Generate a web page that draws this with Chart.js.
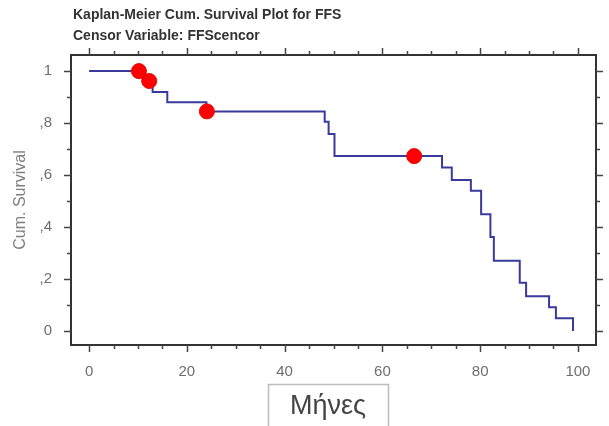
<!DOCTYPE html>
<html>
<head>
<meta charset="utf-8">
<script src="https://cdn.jsdelivr.net/npm/chart.js@4.4.1/dist/chart.umd.min.js"></script>
<style>
  html, body { margin: 0; padding: 0; background: #ffffff; }
  #wrap { width: 609px; height: 426px; position: relative; }
</style>
</head>
<body>
<div id="wrap"><canvas id="c" width="609" height="426"></canvas></div>
<script>
// ---- data ----
const titleLines = ['Kaplan-Meier Cum. Survival Plot for FFS', 'Censor Variable: FFScencor'];
const xAxisTitle = 'Μήνες';
const yAxisTitle = 'Cum. Survival';

// Kaplan-Meier step curve: event time (months) and survival after that time
const kmTimes    = [0, 11, 13, 16, 24, 48.2, 49.0, 50.2, 72.2, 74.2, 78.1, 80.2, 82.1, 82.8, 88.1, 89.4, 94.1, 95.5, 99.0];
const kmSurvival = [1.0, 0.96, 0.92, 0.88, 0.845, 0.805, 0.758, 0.673, 0.629, 0.581, 0.540, 0.449, 0.362, 0.270, 0.186, 0.134, 0.091, 0.049, 0.0];

// censored observations
const censorTimes    = [10.2, 12.3, 24.1, 66.5];
const censorSurvival = [1.0, 0.962, 0.845, 0.673];

// axis ticks
const xTicks = [0, 20, 40, 60, 80, 100];
const xTickLabels = ['0', '20', '40', '60', '80', '100'];
const xMinorStep = 5;
const yTicks = [0, 0.2, 0.4, 0.6, 0.8, 1];
const yTickLabels = ['0', ',2', ',4', ',6', ',8', '1'];
const yMinorStep = 0.1;
const xRange = [-3.7, 103.7];
const yRange = [-0.054, 1.062];

// ---- build datasets ----
const kmPoints = kmTimes.map((t, i) => ({ x: t, y: kmSurvival[i] }));
const censorPoints = censorTimes.map((t, i) => ({ x: t, y: censorSurvival[i] }));

const decorPlugin = {
  id: 'decor',
  afterDatasetsDraw(chart) {
    const ctx = chart.ctx;
    const a = chart.chartArea;
    const xs = chart.scales.x, ys = chart.scales.y;
    ctx.save();
    // frame
    ctx.strokeStyle = '#333333';
    ctx.lineWidth = 2;
    ctx.strokeRect(a.left, a.top, a.right - a.left, a.bottom - a.top);
    // ticks
    ctx.lineWidth = 1.5;
    ctx.strokeStyle = '#444444';
    const majorLen = 7, minorLen = 4;
    for (let v = xTicks[0]; v <= xTicks[xTicks.length - 1] + 1e-9; v += xMinorStep) {
      const isMajor = xTicks.some(t => Math.abs(t - v) < 1e-6);
      const len = isMajor ? majorLen : minorLen;
      const px = Math.round(xs.getPixelForValue(v)) + 0.5;
      ctx.beginPath();
      ctx.moveTo(px, a.bottom); ctx.lineTo(px, a.bottom + len);
      ctx.moveTo(px, a.top); ctx.lineTo(px, a.top - len);
      ctx.stroke();
    }
    for (let v = yTicks[0]; v <= yTicks[yTicks.length - 1] + 1e-9; v += yMinorStep) {
      const isMajor = yTicks.some(t => Math.abs(t - v) < 1e-6);
      const len = isMajor ? majorLen : minorLen;
      const py = Math.round(ys.getPixelForValue(v)) + 0.5;
      ctx.beginPath();
      ctx.moveTo(a.left, py); ctx.lineTo(a.left - len, py);
      ctx.moveTo(a.right, py); ctx.lineTo(a.right + len, py);
      ctx.stroke();
    }
    // title
    ctx.fillStyle = '#333333';
    ctx.font = 'bold 14px "Liberation Sans", Arial, sans-serif';
    ctx.textAlign = 'left';
    ctx.textBaseline = 'middle';
    ctx.fillText(titleLines[0], 73, 15);
    ctx.fillText(titleLines[1], 73, 36);
    // x axis title with box
    ctx.font = '27px "Liberation Sans", Arial, sans-serif';
    ctx.fillStyle = '#444444';
    ctx.textAlign = 'center';
    ctx.textBaseline = 'middle';
    const cx = 328;
    ctx.fillText(xAxisTitle, cx, 407);
    ctx.strokeStyle = '#bdbdbd';
    ctx.lineWidth = 1.5;
    ctx.strokeRect(268.5, 384.5, 120, 50);
    ctx.restore();
  }
};

new Chart(document.getElementById('c'), {
  type: 'line',
  data: {
    datasets: [
      {
        label: 'Censored',
        type: 'scatter',
        data: censorPoints,
        pointRadius: 7.5,
        pointHoverRadius: 7.5,
        pointBackgroundColor: '#ff0000',
        pointBorderColor: '#ee0000',
        pointBorderWidth: 1,
        showLine: false,
        order: 0
      },
      {
        label: 'Survival',
        data: kmPoints,
        stepped: 'before',
        borderColor: '#3a3a9c',
        borderWidth: 2,
        pointRadius: 0,
        fill: false,
        order: 1
      }
    ]
  },
  options: {
    responsive: false,
    animation: false,
    events: [],
    layout: { padding: { top: 55, right: 13, left: 0, bottom: 0 } },
    plugins: { legend: { display: false }, tooltip: { enabled: false }, title: { display: false } },
    scales: {
      x: {
        type: 'linear',
        min: xRange[0], max: xRange[1],
        afterFit: s => { s.height = 81; },
        afterBuildTicks: s => { s.ticks = xTicks.map(v => ({ value: v })); },
        grid: { display: false, drawTicks: false },
        border: { display: false },
        ticks: {
          padding: 18,
          color: '#6e6e6e',
          font: { size: 15, family: '"Liberation Sans", Arial, sans-serif' },
          maxRotation: 0,
          autoSkip: false,
          callback: (v) => { const i = xTicks.indexOf(v); return i >= 0 ? xTickLabels[i] : ''; }
        }
      },
      y: {
        type: 'linear',
        min: yRange[0], max: yRange[1],
        afterFit: s => { s.width = 71; },
        afterBuildTicks: s => { s.ticks = yTicks.map(v => ({ value: v })); },
        grid: { display: false, drawTicks: false },
        border: { display: false },
        title: {
          display: true,
          text: yAxisTitle,
          color: '#808080',
          font: { size: 16, family: '"Liberation Sans", Arial, sans-serif' },
          padding: { top: 11, bottom: 0 }
        },
        ticks: {
          padding: 19,
          color: '#6e6e6e',
          font: { size: 15, family: '"Liberation Sans", Arial, sans-serif' },
          autoSkip: false,
          callback: (v) => { const i = yTicks.findIndex(t => Math.abs(t - v) < 1e-6); return i >= 0 ? yTickLabels[i] : ''; }
        }
      }
    }
  },
  plugins: [decorPlugin]
});
</script>
</body>
</html>
